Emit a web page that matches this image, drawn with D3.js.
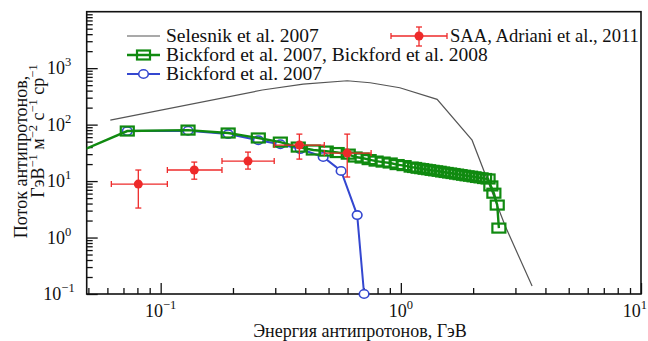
<!DOCTYPE html>
<html><head><meta charset="utf-8">
<script src="https://cdn.jsdelivr.net/npm/d3@7"></script>
<style>
html,body{margin:0;padding:0;background:#fff;}
svg text{fill:#111;}
</style></head>
<body><svg id="c" width="648" height="341"></svg>
<script>
// ---- data ----
const xTickValues = [0.1, 1, 10];
const xTickExp = ["−1", "0", "1"];
const yTickValues = [0.1, 1, 10, 100, 1000];
const yTickExp = ["−1", "0", "1", "2", "3"];

const selesnikE = [0.0617, 0.265, 0.392, 0.598, 0.745, 0.99, 1.416, 1.98, 2.72, 3.52];
const selesnikF = [120, 410, 523, 598, 552, 450, 280, 53, 1.6, 0.138];

const greenE = [0.040, 0.0726, 0.130, 0.191, 0.255, 0.315, 0.374, 0.432, 0.489, 0.543, 0.604,
  0.645, 0.690, 0.738, 0.789, 0.844, 0.903, 0.965, 1.032, 1.104, 1.141, 1.180, 1.221, 1.262,
  1.305, 1.350, 1.396, 1.444, 1.493, 1.544, 1.596, 1.650, 1.707, 1.765, 1.825, 1.887, 1.952,
  2.018, 2.087, 2.158, 2.232, 2.308, 2.37, 2.44, 2.52, 2.56];
const greenF = [26, 77, 80, 71, 58, 49, 40, 35.5, 34, 32, 30,
  26.7, 25.6, 24.0, 22.6, 21.7, 20.9, 19.6, 18.8, 17.7, 17.4, 16.9, 16.6, 16.2,
  15.9, 15.5, 15.2, 14.9, 14.5, 14.2, 13.9, 13.6, 13.3, 13.0, 12.7, 12.4, 12.2,
  11.9, 11.6, 11.4, 11.1, 10.9, 8.2, 6.1, 3.76, 1.47];

const blueE = [0.0726, 0.130, 0.191, 0.255, 0.315, 0.381, 0.475, 0.564, 0.658, 0.703];
const blueF = [76.9, 78, 68, 53, 45, 36.9, 26.7, 15.1, 2.50, 0.1];

const redE = [0.0807, 0.138, 0.231, 0.378, 0.598];
const redELo = [0.0623, 0.1066, 0.180, 0.297, 0.480];
const redEHi = [0.1066, 0.180, 0.297, 0.480, 0.752];
const redF = [8.85, 15.7, 22.6, 43.4, 31.3];
const redFLo = [3.33, 10.8, 16.3, 24.5, 11.8];
const redFHi = [15.7, 21.7, 32.6, 67.9, 67.9];

const legendLabels = ["Selesnik et al. 2007", "SAA, Adriani et al., 2011",
  "Bickford et al. 2007, Bickford et al. 2008", "Bickford et al. 2007"];

// ---- layout ----
const L = 86.7, R = 641, T = 11.7, B = 294;
const GREEN = "#108a10", BLUE = "#3447d0", RED = "#ee2a2a", GREY = "#555";
const FONT = "Liberation Serif";
const svg = d3.select("#c");
const x = d3.scaleLog().domain([0.0492, 10]).range([L, R]);
const y = d3.scaleLog().domain([0.1, 1e4]).range([B, T]);

svg.append("defs").append("clipPath").attr("id", "clip")
  .append("rect").attr("x", L).attr("y", 0).attr("width", R - L).attr("height", 341);

// minor tick values
const xMinor = [], yMinor = [];
for (let d = 0.01; d < 10; d *= 10) for (let k = 2; k <= 9; k++) { const v = +(k * d).toPrecision(3); if (v >= 0.0492 && v <= 10) xMinor.push(v); }
for (let d = 0.1; d < 1e4; d *= 10) for (let k = 2; k <= 9; k++) yMinor.push(+(k * d).toPrecision(3));

// axes
const ax = svg.append("g");
ax.append("g").attr("transform", `translate(0,${B})`)
  .call(d3.axisBottom(x).tickValues(xMinor).tickSize(-6).tickFormat(""));
ax.append("g").attr("transform", `translate(0,${B})`)
  .call(d3.axisBottom(x).tickValues(xTickValues).tickSize(-11).tickFormat(""));
ax.append("g").attr("transform", `translate(${L},0)`)
  .call(d3.axisLeft(y).tickValues(yMinor).tickSize(-6).tickFormat(""));
ax.append("g").attr("transform", `translate(${L},0)`)
  .call(d3.axisLeft(y).tickValues(yTickValues).tickSize(-11).tickFormat(""));
ax.selectAll(".domain").remove();
ax.selectAll(".tick line").attr("stroke", "#111").attr("stroke-width", 1.3);
svg.append("rect").attr("x", L).attr("y", T).attr("width", R - L).attr("height", B - T)
  .attr("fill", "none").attr("stroke", "#111").attr("stroke-width", 1.6);

function txt(sel) { return sel.append("text").attr("font-family", FONT); }

// tick labels
xTickValues.forEach((v, i) => {
  const t = txt(svg).attr("x", i === 2 ? 647 : x(v)).attr("y", 316.5)
    .attr("text-anchor", i === 2 ? "end" : "middle").attr("font-size", 18);
  t.append("tspan").text("10");
  t.append("tspan").attr("dy", -8).attr("font-size", 12.5).text(xTickExp[i]);
});
yTickValues.forEach((v, i) => {
  const t = txt(svg).attr("x", 59).attr("y", y(v) + 6)
    .attr("text-anchor", "middle").attr("font-size", 18);
  t.append("tspan").text("10");
  t.append("tspan").attr("dy", -8).attr("font-size", 12.5).text(yTickExp[i]);
});

// axis titles
txt(svg).attr("x", 360).attr("y", 337).attr("text-anchor", "middle")
  .attr("font-size", 18).text("Энергия антипротонов, ГэВ");
txt(svg).attr("transform", "translate(27,157) rotate(-90)").attr("text-anchor", "middle")
  .attr("font-size", 18).text("Поток антипротонов,");
const yl2 = txt(svg).attr("transform", "translate(44,131) rotate(-90)")
  .attr("text-anchor", "middle").attr("font-size", 18);
[["ГэВ", "−1"], [" м", "−2"], [" с", "−1"], [" ср", "−1"]].forEach(([a, b], i) => {
  yl2.append("tspan").attr("dy", i === 0 ? 0 : 7).text(a);
  yl2.append("tspan").attr("dy", -7).attr("font-size", 12.5).text(b);
});

// ---- data marks ----
const line = d3.line().x(d => x(d[0])).y(d => y(d[1]));
// Selesnik
svg.append("path").datum(selesnikE.map((e, i) => [e, selesnikF[i]]))
  .attr("d", line).attr("fill", "none").attr("stroke", GREY).attr("stroke-width", 1.2);

// Blue
const bData = blueE.map((e, i) => [e, blueF[i]]);
const bg = svg.append("g");
bg.append("path").datum(bData).attr("d", line).attr("fill", "none").attr("stroke", BLUE).attr("stroke-width", 2);
bg.selectAll("ellipse").data(bData).join("ellipse")
  .attr("cx", d => x(d[0])).attr("cy", d => y(d[1])).attr("rx", 4.8).attr("ry", 4.2)
  .attr("fill", "#fff").attr("stroke", BLUE).attr("stroke-width", 1.6);

// Green
const gData = greenE.map((e, i) => [e, greenF[i]]);
const gg = svg.append("g").attr("clip-path", "url(#clip)");
gg.append("path").datum(gData).attr("d", line).attr("fill", "none").attr("stroke", GREEN).attr("stroke-width", 2.4);
gg.selectAll("rect").data(gData).join("rect")
  .attr("x", d => x(d[0]) - 6.5).attr("y", d => y(d[1]) - 4.5).attr("width", 13).attr("height", 9)
  .attr("fill", "none").attr("stroke", GREEN).attr("stroke-width", 2.2);

// Red
const rg = svg.append("g").attr("stroke", RED).attr("stroke-width", 1.3);
const cap = 3;
redE.forEach((e, i) => {
  const cx = x(e), cy = y(redF[i]);
  rg.append("line").attr("x1", x(redELo[i])).attr("x2", x(redEHi[i])).attr("y1", cy).attr("y2", cy);
  rg.append("line").attr("x1", x(redELo[i])).attr("x2", x(redELo[i])).attr("y1", cy - cap).attr("y2", cy + cap);
  rg.append("line").attr("x1", x(redEHi[i])).attr("x2", x(redEHi[i])).attr("y1", cy - cap).attr("y2", cy + cap);
  rg.append("line").attr("x1", cx).attr("x2", cx).attr("y1", y(redFLo[i])).attr("y2", y(redFHi[i]));
  rg.append("line").attr("x1", cx - cap).attr("x2", cx + cap).attr("y1", y(redFLo[i])).attr("y2", y(redFLo[i]));
  rg.append("line").attr("x1", cx - cap).attr("x2", cx + cap).attr("y1", y(redFHi[i])).attr("y2", y(redFHi[i]));
  rg.append("circle").attr("cx", cx).attr("cy", cy).attr("r", 4.5).attr("fill", RED).attr("stroke", "none");
});

// ---- legend ----
const lg = svg.append("g");
const rows = [36, 55, 74];
const LFS = 19.5;
// Selesnik
lg.append("line").attr("x1", 127).attr("x2", 160).attr("y1", rows[0]).attr("y2", rows[0]).attr("stroke", GREY).attr("stroke-width", 1.2);
txt(lg).attr("x", 166).attr("y", rows[0]).attr("dy", "0.33em").attr("font-size", LFS).text(legendLabels[0]);
// Green
lg.append("line").attr("x1", 127).attr("x2", 160).attr("y1", rows[1]).attr("y2", rows[1]).attr("stroke", GREEN).attr("stroke-width", 2.4);
lg.append("rect").attr("x", 137).attr("y", rows[1] - 4.5).attr("width", 13).attr("height", 9).attr("fill", "none").attr("stroke", GREEN).attr("stroke-width", 2.2);
txt(lg).attr("x", 166).attr("y", rows[1]).attr("dy", "0.33em").attr("font-size", LFS).text(legendLabels[2]);
// Blue
lg.append("line").attr("x1", 127).attr("x2", 160).attr("y1", rows[2]).attr("y2", rows[2]).attr("stroke", BLUE).attr("stroke-width", 2);
lg.append("ellipse").attr("cx", 143.5).attr("cy", rows[2]).attr("rx", 4.8).attr("ry", 4.2).attr("fill", "#fff").attr("stroke", BLUE).attr("stroke-width", 1.6);
txt(lg).attr("x", 166).attr("y", rows[2]).attr("dy", "0.33em").attr("font-size", LFS).text(legendLabels[3]);
// Red
const rl = lg.append("g").attr("stroke", RED).attr("stroke-width", 1.3);
rl.append("line").attr("x1", 391).attr("x2", 447).attr("y1", rows[0]).attr("y2", rows[0]);
rl.append("line").attr("x1", 391).attr("x2", 391).attr("y1", rows[0] - cap).attr("y2", rows[0] + cap);
rl.append("line").attr("x1", 447).attr("x2", 447).attr("y1", rows[0] - cap).attr("y2", rows[0] + cap);
rl.append("line").attr("x1", 419).attr("x2", 419).attr("y1", 27).attr("y2", 46);
rl.append("line").attr("x1", 416).attr("x2", 422).attr("y1", 27).attr("y2", 27);
rl.append("line").attr("x1", 416).attr("x2", 422).attr("y1", 46).attr("y2", 46);
rl.append("circle").attr("cx", 419).attr("cy", rows[0]).attr("r", 4.5).attr("fill", RED).attr("stroke", "none");
txt(lg).attr("x", 450).attr("y", rows[0]).attr("dy", "0.33em").attr("font-size", 18.6).text(legendLabels[1]);
</script></body></html>
